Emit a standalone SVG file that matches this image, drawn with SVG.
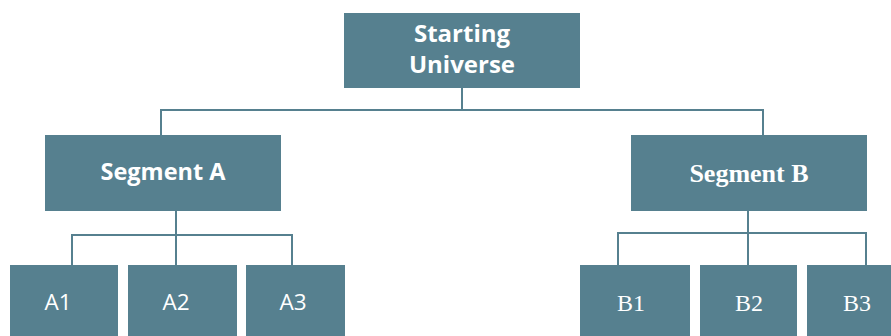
<svg xmlns="http://www.w3.org/2000/svg" width="891" height="336" viewBox="0 0 891 336">
  <style>
    .box { fill: #56808f; }
    .link { fill: none; stroke: #56808f; stroke-width: 2; }
    .sans { font-family: "Open Sans", "Liberation Sans", sans-serif; fill: #ffffff; text-anchor: middle; }
    .serif { font-family: "Liberation Serif", "DejaVu Serif", serif; fill: #ffffff; text-anchor: middle; }
    .head { font-size: 24px; font-weight: bold; }
    .seg { font-size: 23.5px; font-weight: bold; }
    .segb { font-size: 26px; font-weight: bold; }
    .leaf { font-size: 22.5px; }
    .leafb { font-size: 24px; }
  </style>
  <rect width="891" height="336" fill="#ffffff"/>

  <g id="connectors">
    <path class="link" d="M462 88 V110 M161 135 V110 H763 V135"/>
    <path class="link" d="M176 210 V265 M72 265 V235 H292 V265"/>
    <path class="link" d="M748 211 V265 M618 265 V233 H866 V265"/>
  </g>

  <g id="starting-universe">
    <rect class="box" x="344" y="13" width="236" height="75"/>
    <text class="sans head" x="462" y="42">Starting</text>
    <text class="sans head" x="462" y="73">Universe</text>
  </g>

  <g id="segment-a">
    <rect class="box" x="45" y="135" width="236" height="76"/>
    <text class="sans seg" x="163" y="180">Segment A</text>
  </g>

  <g id="segment-b">
    <rect class="box" x="631" y="135" width="236" height="76"/>
    <text class="serif segb" x="749" y="182">Segment B</text>
  </g>

  <g id="a1">
    <rect class="box" x="10" y="265" width="108" height="71"/>
    <text class="sans leaf" x="58" y="310">A1</text>
  </g>
  <g id="a2">
    <rect class="box" x="128" y="265" width="109" height="71"/>
    <text class="sans leaf" x="176" y="310">A2</text>
  </g>
  <g id="a3">
    <rect class="box" x="246" y="265" width="99" height="71"/>
    <text class="sans leaf" x="293" y="310">A3</text>
  </g>

  <g id="b1">
    <rect class="box" x="580" y="265" width="110" height="71"/>
    <text class="serif leafb" x="631" y="311">B1</text>
  </g>
  <g id="b2">
    <rect class="box" x="700" y="265" width="97" height="71"/>
    <text class="serif leafb" x="749" y="311">B2</text>
  </g>
  <g id="b3">
    <rect class="box" x="807" y="265" width="84" height="71"/>
    <text class="serif leafb" x="857" y="311">B3</text>
  </g>
</svg>
